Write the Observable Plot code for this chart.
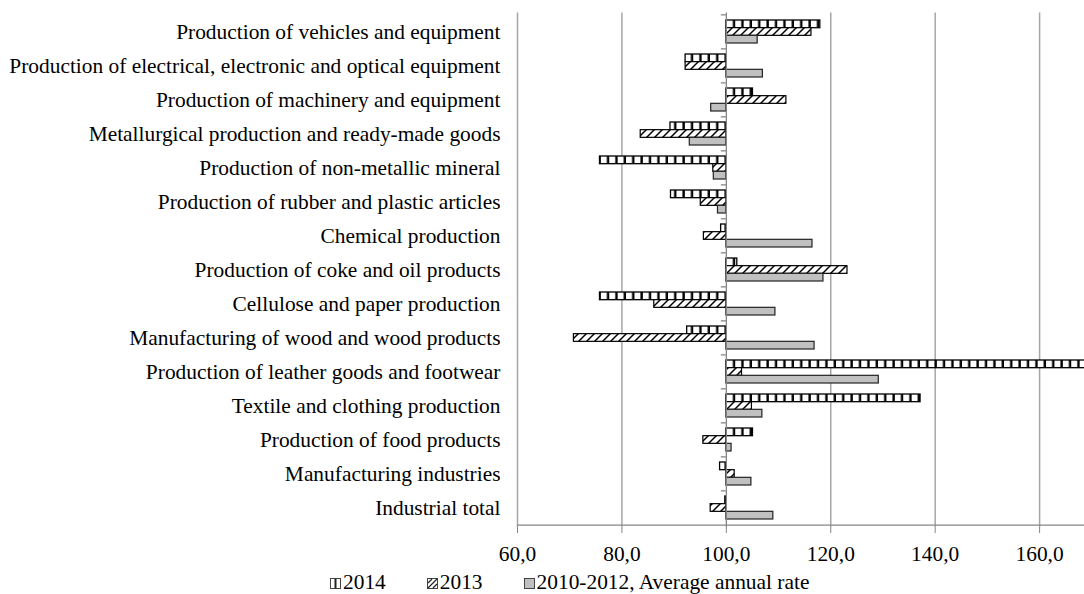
<!DOCTYPE html>
<html>
<head>
<meta charset="utf-8">
<script src="https://cdn.jsdelivr.net/npm/d3@7"></script>
<script src="https://cdn.jsdelivr.net/npm/@observablehq/plot@0.6"></script>
<style>
  html, body { margin: 0; padding: 0; background: #fff; }
  body { font-family: "Liberation Serif", "Times New Roman", serif; color: #000; width: 1084px; height: 594px; overflow: hidden; }
  #chart svg { display: block; }
  #legend { display: flex; align-items: center; margin-left: 330px; height: 28px; font-size: 21.4px; line-height: 28px; padding-top: 2px; }
  #legend .item { display: flex; align-items: center; margin-right: 41px; }
  #legend svg { display: block; margin-right: 2px; margin-top: 3px; }
</style>
</head>
<body>
<div id="chart"></div>
<div id="legend"></div>
<script>
// ---- data (top to bottom as in the chart) ----
const categories = [
  "Production of vehicles and equipment",
  "Production of electrical, electronic and optical equipment",
  "Production of machinery and equipment",
  "Metallurgical production and ready-made goods",
  "Production of non-metallic mineral",
  "Production of rubber and plastic articles",
  "Chemical production",
  "Production of coke and oil products",
  "Cellulose and paper production",
  "Manufacturing of wood and wood products",
  "Production of leather goods and footwear",
  "Textile and clothing production",
  "Production of food products",
  "Manufacturing industries",
  "Industrial total"
];
const seriesNames = ["2014", "2013", "2010-2012, Average annual rate"];
const v2014 = [118.0, 92.2, 105.1, 89.3, 75.8, 89.4, 99.0, 102.1, 75.8, 92.5, 175.0, 137.2, 105.1, 98.8, 99.8];
const v2013 = [116.3, 92.2, 111.5, 83.6, 97.5, 95.1, 95.7, 123.2, 86.2, 70.8, 103.0, 104.9, 95.6, 101.6, 97.0];
const vAvg  = [106.0, 107.0, 97.1, 93.0, 97.6, 98.4, 116.5, 118.6, 109.4, 116.9, 129.2, 106.9, 101.0, 104.8, 109.0];
const xTicks = [60, 80, 100, 120, 140, 160];
const baseValue = 100;

const rows = categories.map((c, i) => ({cat: c, v2014: v2014[i], v2013: v2013[i], vAvg: vAvg[i]}));

// ---- layout ----
const W = 1084, H = 566, mL = 517, mR = 0, mT = 12.5, mB = 39;
const xMax = 168.6;
const step = (H - mT - mB) / categories.length;
const pIn = 0.33, pOut = pIn / 2;
const bw = step * (1 - pIn);
const third = bw / 3;
const ppu = (W - mL - mR) / (xMax - 60);
const tickLen = 5 / ppu;
const axisGray = "#868686";
const fs = 21.4;
const fmt = d => d.toFixed(1).replace(".", ",");

const plot = Plot.plot({
  width: W, height: H,
  marginLeft: mL, marginRight: mR, marginTop: mT, marginBottom: mB,
  style: {fontFamily: "'Liberation Serif', 'Times New Roman', serif", fontSize: fs + "px", background: "white", color: "black", overflow: "visible"},
  x: {domain: [60, xMax]},
  y: {domain: categories, paddingInner: pIn, paddingOuter: pOut},
  marks: [
    Plot.gridX(xTicks.filter(t => t !== baseValue), {stroke: "#a6a6a6", strokeOpacity: 1, strokeWidth: 1.5}),
    Plot.barX(rows, {y: "cat", x1: baseValue, x2: "v2014", fill: "url(#p2014)", stroke: "black", strokeWidth: 1.3, insetBottom: 2 * third, clip: true}),
    Plot.barX(rows, {y: "cat", x1: baseValue, x2: "v2013", fill: "url(#p2013)", stroke: "black", strokeWidth: 1.2, insetTop: third, insetBottom: third, clip: true}),
    Plot.barX(rows, {y: "cat", x1: baseValue, x2: "vAvg", fill: "#c0c0c0", stroke: "#222", strokeWidth: 1.2, insetTop: 2 * third, clip: true}),
    Plot.ruleX([baseValue], {stroke: axisGray, strokeWidth: 1.3}),
    Plot.ruleY(categories, {x1: baseValue - tickLen, x2: baseValue, dy: -step / 2, stroke: axisGray, strokeWidth: 1.3}),
    Plot.ruleY([categories[categories.length - 1]], {dy: step / 2, stroke: axisGray, strokeWidth: 1.3}),
    Plot.axisX(xTicks, {tickSize: 6, tickPadding: 12, tickFormat: fmt, stroke: axisGray, fill: "black", fontSize: fs, label: null}),
    Plot.axisY({tickSize: 0, tickPadding: 17, fill: "black", fontSize: fs, label: null})
  ]
});

// patterns
const svg = d3.select(plot);
const defs = svg.insert("defs", ":first-child");
const x0 = plot.scale("x").apply(baseValue);
const p1 = defs.append("pattern").attr("id", "p2014").attr("patternUnits", "userSpaceOnUse")
  .attr("width", 8.4).attr("height", 10).attr("patternTransform", `translate(${x0 + 1},0)`);
p1.append("rect").attr("width", 8.4).attr("height", 10).attr("fill", "white");
p1.append("rect").attr("x", 6.0).attr("width", 2.4).attr("height", 10).attr("fill", "black");
const p2 = defs.append("pattern").attr("id", "p2013").attr("patternUnits", "userSpaceOnUse")
  .attr("width", 8).attr("height", 8);
p2.append("rect").attr("width", 8).attr("height", 8).attr("fill", "white");
p2.append("path").attr("d", "M0,8L8,0M-2,2L2,-2M6,10L10,6").attr("stroke", "black").attr("stroke-width", 1.5);

document.getElementById("chart").appendChild(plot);

// legend
const swatches = [
  `<svg width="11" height="11"><rect x="0.5" y="0.5" width="10" height="10" fill="white" stroke="#444"/><rect x="4.5" y="0.5" width="2" height="10" fill="#222"/></svg>`,
  `<svg width="11" height="11"><rect x="0.5" y="0.5" width="10" height="10" fill="white" stroke="#444"/><path d="M1,10L10,1M1,5L5,1M6,10L10,6" stroke="#222" stroke-width="1.2"/></svg>`,
  `<svg width="11" height="11"><rect x="0.5" y="0.5" width="10" height="10" fill="#c0c0c0" stroke="#444"/></svg>`
];
const legend = d3.select("#legend");
seriesNames.forEach((name, i) => {
  const item = legend.append("div").attr("class", "item");
  item.html(swatches[i]);
  item.append("span").text(name);
});
</script>
</body>
</html>
